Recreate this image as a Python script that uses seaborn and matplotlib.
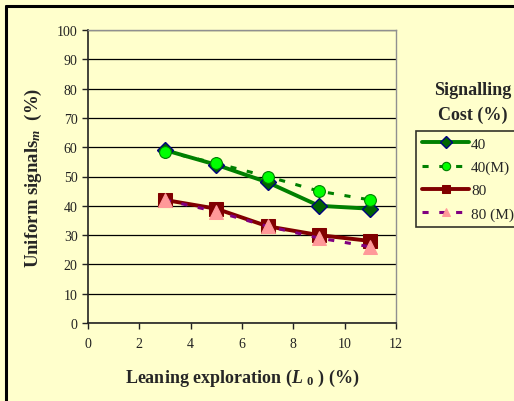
import matplotlib
matplotlib.use("Agg")
import matplotlib.pyplot as plt
from matplotlib.lines import Line2D
import seaborn as sns

# values
exploration = [3, 5, 7, 9, 11]
cost40 = [59, 54, 48, 40, 39]
cost40_m = [58.5, 54.5, 50, 45, 42]
cost80 = [42, 39, 33, 30, 28]
cost80_m = [42, 38, 33, 29, 26]
labels = ["40", "40(M)", "80", "80 (M)"]

BG = "#FFFFCC"

sns.set_theme(style="white")
plt.rcParams["font.family"] = ["Liberation Serif", "DejaVu Serif"]
plt.rcParams["mathtext.fontset"] = "custom"
plt.rcParams["mathtext.it"] = "Liberation Serif:italic:bold"
plt.rcParams["mathtext.rm"] = "Liberation Serif:bold"

fig = plt.figure(figsize=(5.14, 4.02), dpi=100, facecolor=BG)
ax = fig.add_axes([88 / 514, 1 - 324 / 402, (396 - 88) / 514, (324 - 31) / 402])
ax.set_facecolor(BG)

styles = [
    dict(color="#008000", linestyle="-", linewidth=2.8, marker="D", markersize=8.5,
         markerfacecolor="#006400", markeredgecolor="#000080", markeredgewidth=1.0),
    dict(color="#008000", linestyle=(0, (2, 3.5)), linewidth=2.2, marker="o", markersize=8.5,
         markerfacecolor="#00FF00", markeredgecolor="#008000", markeredgewidth=0.8),
    dict(color="#800000", linestyle="-", linewidth=2.8, marker="s", markersize=10,
         markerfacecolor="#800000", markeredgecolor="#800000"),
    dict(color="#800080", linestyle=(0, (2, 3.5)), linewidth=2.2, marker="^", markersize=9.5,
         markerfacecolor="#FF9999", markeredgecolor="#FF9999"),
]
series = [cost40, cost40_m, cost80, cost80_m]

for vals, lab, st in zip(series, labels, styles):
    sns.lineplot(x=exploration, y=vals, ax=ax, label=lab, zorder=3, **st)

ax.set_xlim(0, 12)
ax.set_ylim(0, 100)
ax.set_xticks(range(0, 13, 2))
ax.set_yticks(range(0, 101, 10))
ax.yaxis.grid(True, color="black", linewidth=0.9)
ax.set_axisbelow(True)
ax.tick_params(axis="both", direction="out", length=4, width=1, colors="#222222",
               labelsize=10, left=True, bottom=True)
ax.tick_params(axis="x", pad=6)
for side in ["top", "right"]:
    ax.spines[side].set_color("#909090")
    ax.spines[side].set_linewidth(1)
for side in ["left", "bottom"]:
    ax.spines[side].set_color("#222222")
    ax.spines[side].set_linewidth(1.2)

ax.set_xlabel(r"Leaning exploration ($L$ $_{0}$ ) (%)", fontsize=13,
              fontweight="bold", labelpad=12)
ax.set_ylabel(r"Uniform signals$_{m}$  (%)", fontsize=13.5, fontweight="bold",
              labelpad=9)

leg = ax.legend(loc="upper left", bbox_to_anchor=(416 / 514, 1 - 132 / 402),
                bbox_transform=fig.transFigure, frameon=True, fancybox=False,
                facecolor=BG, edgecolor="black", fontsize=11, handlelength=3.1,
                handletextpad=0.1, borderpad=0.4, labelspacing=0.62,
                borderaxespad=0)
leg.get_frame().set_linewidth(1.2)
for h in leg.legend_handles:
    h.set_markersize(6)

fig.text(473 / 514, 1 - 103 / 402, "Signalling\nCost (%)", ha="center", va="center",
         fontsize=13, fontweight="bold", linespacing=1.65)

# outer chart frame (left and top edges visible)
fig.add_artist(Line2D([6 / 514, 6 / 514], [0, 1 - 7 / 402], transform=fig.transFigure,
                      color="black", linewidth=2.2))
fig.add_artist(Line2D([6 / 514, 1], [1 - 7 / 402, 1 - 7 / 402], transform=fig.transFigure,
                      color="black", linewidth=2.2))

fig.savefig("out.png", dpi=100, facecolor=BG)
